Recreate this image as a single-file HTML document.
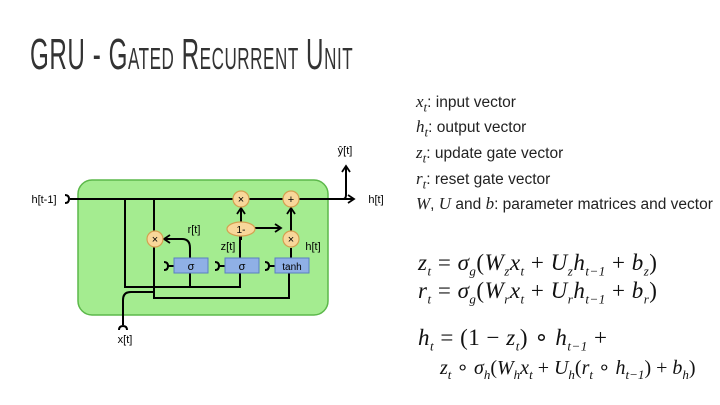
<!DOCTYPE html>
<html><head><style>
body{margin:0;width:720px;height:405px;background:#fff;overflow:hidden;position:relative;font-family:"Liberation Sans",sans-serif}
.t{position:absolute;left:30px;top:30px;font-size:44px;font-variant:small-caps;transform:scaleX(0.55);transform-origin:0 0;letter-spacing:1px;color:#333;white-space:nowrap;font-family:"Liberation Sans Narrow","Liberation Sans",sans-serif}
.l{position:absolute;left:416px;font-size:15.5px;color:#222;white-space:nowrap}
.m{font-family:"Liberation Serif",serif;font-style:italic;font-size:17px}
.e{position:absolute;left:418px;font-family:"Liberation Serif",serif;font-size:23px;white-space:nowrap;color:#111;letter-spacing:0.5px}
.e i{font-style:italic}
sub{font-size:13px}
</style></head><body>
<div class="t">GRU - Gated Recurrent Unit</div>
<div class="l" style="top:92px"><span class="m">x<sub>t</sub></span>: input vector</div>
<div class="l" style="top:117px"><span class="m">h<sub>t</sub></span>: output vector</div>
<div class="l" style="top:143px"><span class="m">z<sub>t</sub></span>: update gate vector</div>
<div class="l" style="top:169px"><span class="m">r<sub>t</sub></span>: reset gate vector</div>
<div class="l" style="top:194px"><span class="m">W</span>, <span class="m">U</span> and <span class="m">b</span>: parameter matrices and vector</div>
<div class="e" style="top:250px"><i>z<sub>t</sub></i> = <i>σ<sub>g</sub></i>(<i>W<sub>z</sub>x<sub>t</sub></i> + <i>U<sub>z</sub>h<sub>t−1</sub></i> + <i>b<sub>z</sub></i>)</div>
<div class="e" style="top:278px"><i>r<sub>t</sub></i> = <i>σ<sub>g</sub></i>(<i>W<sub>r</sub>x<sub>t</sub></i> + <i>U<sub>r</sub>h<sub>t−1</sub></i> + <i>b<sub>r</sub></i>)</div>
<div class="e" style="top:325px"><i>h<sub>t</sub></i> = (1 − <i>z<sub>t</sub></i>) ∘ <i>h<sub>t−1</sub></i> +</div>
<div class="e" style="top:355px;left:440px;font-size:20px;letter-spacing:0"><i>z<sub>t</sub></i> ∘ <i>σ<sub>h</sub></i>(<i>W<sub>h</sub>x<sub>t</sub></i> + <i>U<sub>h</sub></i>(<i>r<sub>t</sub></i> ∘ <i>h<sub>t−1</sub></i>) + <i>b<sub>h</sub></i>)</div>
<svg width="720" height="405" style="position:absolute;left:0;top:0" font-family="Liberation Sans,sans-serif">
<defs><marker id="a" markerUnits="userSpaceOnUse" markerWidth="10" markerHeight="10" refX="7" refY="5" orient="auto"><path d="M1,1 L7,5 L1,9" fill="none" stroke="#000" stroke-width="1.8"/></marker></defs>
<rect x="78" y="180" width="250" height="135" rx="14" fill="#a4ec90" stroke="#5cb84a" stroke-width="1.5"/>
<g stroke="#000" stroke-width="2" fill="none">
<line x1="70" y1="199" x2="354" y2="199" marker-end="url(#a)"/>
<path d="M343,199 Q346,199 346,195 L346,166" marker-end="url(#a)"/>
<path d="M125,199 L125,287 L240,287 L240,236"/>
<path d="M154,199 L154,298 L289,298 L289,273"/>
<path d="M190,287 L190,248 Q190,239 182,239 L164,239" marker-end="url(#a)"/>
<path d="M241,222 L241,208" marker-end="url(#a)"/>
<path d="M241,240 L241,232 Q241,228 245,228 L281,228" marker-end="url(#a)"/>
<path d="M291,258 L291,248"/>
<path d="M291,231 L291,208" marker-end="url(#a)"/>
<path d="M123,325 L123,300 Q123,292 131,292 L154,292"/>
<path d="M164,262 Q168,262 168,266 Q168,270 164,270 M168,266 L174,266"/>
<path d="M215,262 Q219,262 219,266 Q219,270 215,270 M219,266 L225,266"/>
<path d="M265,262 Q269,262 269,266 Q269,270 265,270 M269,266 L275,266"/>
<path d="M65,195 Q69,195 69,199 Q69,203 65,203"/>
<path d="M119,330 Q119,326 123,326 Q127,326 127,330"/>
</g>
<g stroke="#d4a050" stroke-width="1.2" fill="#f8d79a">
<circle cx="241" cy="199" r="8"/><circle cx="291" cy="199" r="8"/>
<circle cx="155" cy="239" r="8"/><circle cx="291" cy="239" r="8"/>
<ellipse cx="241" cy="229" rx="14" ry="7"/>
</g>
<g stroke="#5a7fc0" fill="#8fb0e6"><rect x="174" y="258" width="34" height="15"/><rect x="225" y="258" width="34" height="15"/><rect x="275" y="258" width="34" height="15"/></g>
<g font-size="11" text-anchor="middle" fill="#000">
<text x="241" y="203">×</text><text x="291" y="203">+</text><text x="155" y="243">×</text><text x="291" y="243">×</text>
<text x="241" y="233" font-size="10">1-</text>
<text x="191" y="270">σ</text><text x="242" y="270">σ</text><text x="292" y="270" font-size="10">tanh</text>
<text x="44" y="203">h[t-1]</text><text x="376" y="203">h[t]</text><text x="345" y="154">ŷ[t]</text>
<text x="194" y="233">r[t]</text><text x="228" y="250">z[t]</text><text x="313" y="250">h[t]</text>
<text x="125" y="343">x[t]</text>
</g>
</svg>
</body></html>
